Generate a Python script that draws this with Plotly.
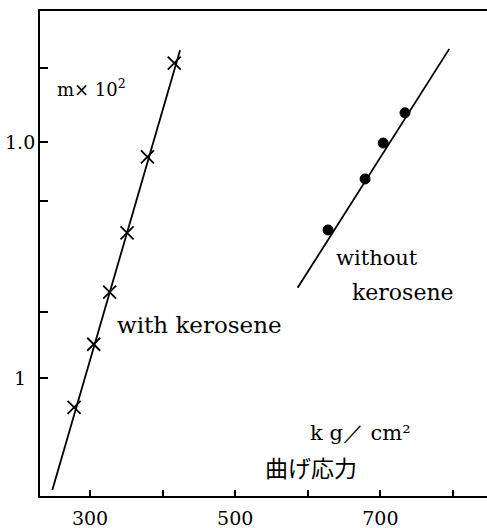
import plotly.graph_objects as go
import math

# with kerosene: measured points and fitted line
kero_x = [278, 305, 327, 351, 379, 416]
kero_y = [0.75, 1.39, 2.31, 4.12, 8.64, 21.6]
kero_fit_x = [248, 424]
kero_fit_y = [0.335, 24.5]

# without kerosene
nokero_x = [628, 679, 704, 734]
nokero_y = [4.24, 6.97, 9.9, 13.3]
nokero_fit_x = [586, 795]
nokero_fit_y = [2.41, 24.8]

x_ticks = [300, 400, 500, 600, 700, 800]
x_tick_text = ["300", "", "500", "", "700", ""]
y_ticks = [1, 1.9, 5.6, 10, 20.6]
y_labels = [(10, "1.0"), (1, "1")]

SERIF = "DejaVu Serif"

fig = go.Figure()
fig.add_trace(go.Scatter(x=kero_fit_x, y=kero_fit_y, mode="lines",
                         line=dict(color="black", width=1.8), showlegend=False))
fig.add_trace(go.Scatter(x=kero_x, y=kero_y, mode="markers",
                         marker=dict(symbol="x-thin-open", size=13, color="black",
                                     line=dict(color="black", width=1.8)),
                         showlegend=False))
fig.add_trace(go.Scatter(x=nokero_fit_x, y=nokero_fit_y, mode="lines",
                         line=dict(color="black", width=1.8), showlegend=False))
fig.add_trace(go.Scatter(x=nokero_x, y=nokero_y, mode="markers",
                         marker=dict(symbol="circle", size=10, color="black",
                                     line=dict(color="black", width=1)),
                         showlegend=False))

fig.update_layout(
    width=487, height=528,
    margin=dict(l=40, r=0, t=11, b=32),
    paper_bgcolor="white", plot_bgcolor="white",
    showlegend=False,
    xaxis=dict(range=[231, 847], showgrid=False, zeroline=False, automargin=False,
               showline=True, linecolor="black", linewidth=2, mirror=True,
               ticks="inside", ticklen=6, tickwidth=1.5, tickcolor="black",
               tickvals=x_ticks, ticktext=x_tick_text, ticklabelstandoff=4,
               tickfont=dict(family=SERIF, size=19, color="black")),
    yaxis=dict(type="log", range=[-0.5, 1.555], showgrid=False, zeroline=False,
               automargin=False,
               showline=True, linecolor="black", linewidth=2, mirror=False,
               ticks="inside", ticklen=8, tickwidth=2, tickcolor="black",
               tickvals=y_ticks, showticklabels=False),
)

for v, t in y_labels:
    fig.add_annotation(x=-0.045, xref="paper", y=math.log10(v), yref="y",
                       text=t, showarrow=False, xanchor="center", yanchor="middle",
                       font=dict(family=SERIF, size=19, color="black"))

texts = [
    ("m× 10<sup>2</sup>", 0.034, 0.841, 18, SERIF),
    ("with kerosene", 0.168, 0.3526, 23, SERIF),
    ("without", 0.658, 0.4907, 21, SERIF),
    ("kerosene", 0.6935, 0.4206, 22, SERIF),
    ("k g／ cm²", 0.5996, 0.13, 21, SERIF),
    ("曲げ応力", 0.4989, 0.0598, 23, "Noto Sans CJK JP"),
]
for t, x, y, s, f in texts:
    fig.add_annotation(x=x, y=y, xref="paper", yref="paper", text=t,
                       showarrow=False, xanchor="left", yanchor="middle",
                       font=dict(family=f, size=s, color="black"))

fig.write_html("out.html", config={"displayModeBar": False},
               post_script="document.body.style.margin='0';")
